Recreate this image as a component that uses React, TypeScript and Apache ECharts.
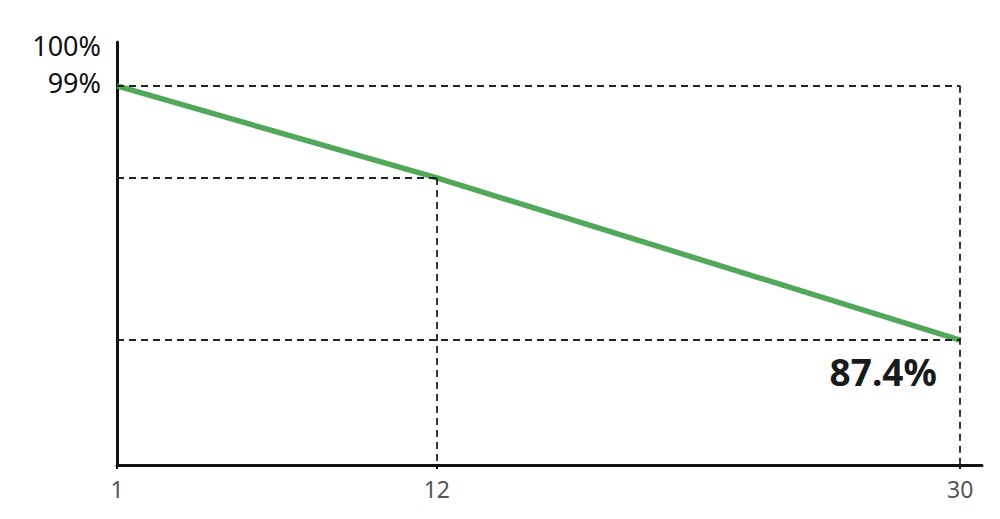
import * as echarts from 'echarts';
import React, { useEffect, useRef } from 'react';

// 横轴：天数；纵轴：保持率（%）
const days = [1, 12, 30];
const retention = [99, 94.8, 87.4];
const xTickLabels = [1, 12, 30];
const yTickLabels = [99];
const yTopLabel = '100%';

const FONT = '"Noto Sans", "Noto Sans CJK SC", sans-serif';

const RetentionChart: React.FC = () => {
  const chartRef = useRef<HTMLDivElement>(null);

  useEffect(() => {
    if (!chartRef.current) return;
    document.body.style.margin = '0';

    const chart = echarts.init(chartRef.current, undefined, { renderer: 'svg' });

    const xMin = days[0];
    const yMin = 81.7;
    const last = days.length - 1;

    // 虚线辅助线
    const guide = (a: number[], b: number[]) => [{ coord: a }, { coord: b }];
    const guides = [
      guide([xMin, retention[0]], [days[last], retention[0]]),
      guide([xMin, retention[1]], [days[1], retention[1]]),
      guide([days[1], retention[1]], [days[1], yMin]),
      guide([xMin, retention[last]], [days[last], retention[last]]),
      guide([days[last], retention[0]], [days[last], yMin]),
    ];

    const option: echarts.EChartsOption = {
      animation: false,
      grid: { left: 117, right: 18, top: 42, bottom: 54 },
      xAxis: {
        type: 'value',
        min: xMin,
        max: 30.75,
        splitLine: { show: false },
        axisLine: { lineStyle: { color: '#111', width: 3 } },
        axisTick: {
          show: true,
          customValues: xTickLabels,
          length: 4,
          lineStyle: { color: '#111', width: 2 },
        },
        axisLabel: {
          customValues: xTickLabels,
          color: '#555',
          fontSize: 23,
          fontFamily: FONT,
          margin: 12,
        },
      },
      yAxis: {
        type: 'value',
        min: yMin,
        max: 101,
        name: yTopLabel,
        nameLocation: 'end',
        nameGap: -3,
        nameTextStyle: {
          color: '#111',
          fontSize: 27,
          fontFamily: FONT,
          align: 'right',
          verticalAlign: 'middle',
          padding: [0, 16, 0, 0],
        },
        splitLine: { show: false },
        axisLine: { show: true, lineStyle: { color: '#111', width: 3 } },
        axisTick: { show: false },
        axisLabel: {
          customValues: yTickLabels,
          formatter: (v: number) => `${v}%`,
          color: '#111',
          fontSize: 27,
          fontFamily: FONT,
          margin: 16,
          verticalAlign: 'bottom',
          lineHeight: 6,
        },
      },
      series: [
        {
          type: 'line',
          data: days.map((d, i) =>
            i === last
              ? {
                  value: [d, retention[i]],
                  label: {
                    show: true,
                    position: 'bottom',
                    distance: 13,
                    offset: [-77, 0],
                    formatter: `${retention[i]}%`,
                    color: '#1a1a1a',
                    fontSize: 37,
                    fontWeight: 'bold',
                    fontFamily: FONT,
                  },
                }
              : [d, retention[i]]
          ),
          showSymbol: true,
          symbol: 'circle',
          symbolSize: 0,
          lineStyle: { color: '#52a85a', width: 5.5 },
          markLine: {
            silent: true,
            symbol: 'none',
            label: { show: false },
            lineStyle: { color: '#222', width: 1.8, type: [7, 5] },
            data: guides as any,
          },
          z: 3,
        },
      ],
    };

    chart.setOption(option);

    return () => {
      chart.dispose();
    };
  }, []);

  return <div ref={chartRef} style={{ width: '1000px', height: '519px' }} />;
};

export default function App() {
  return <RetentionChart />;
}
